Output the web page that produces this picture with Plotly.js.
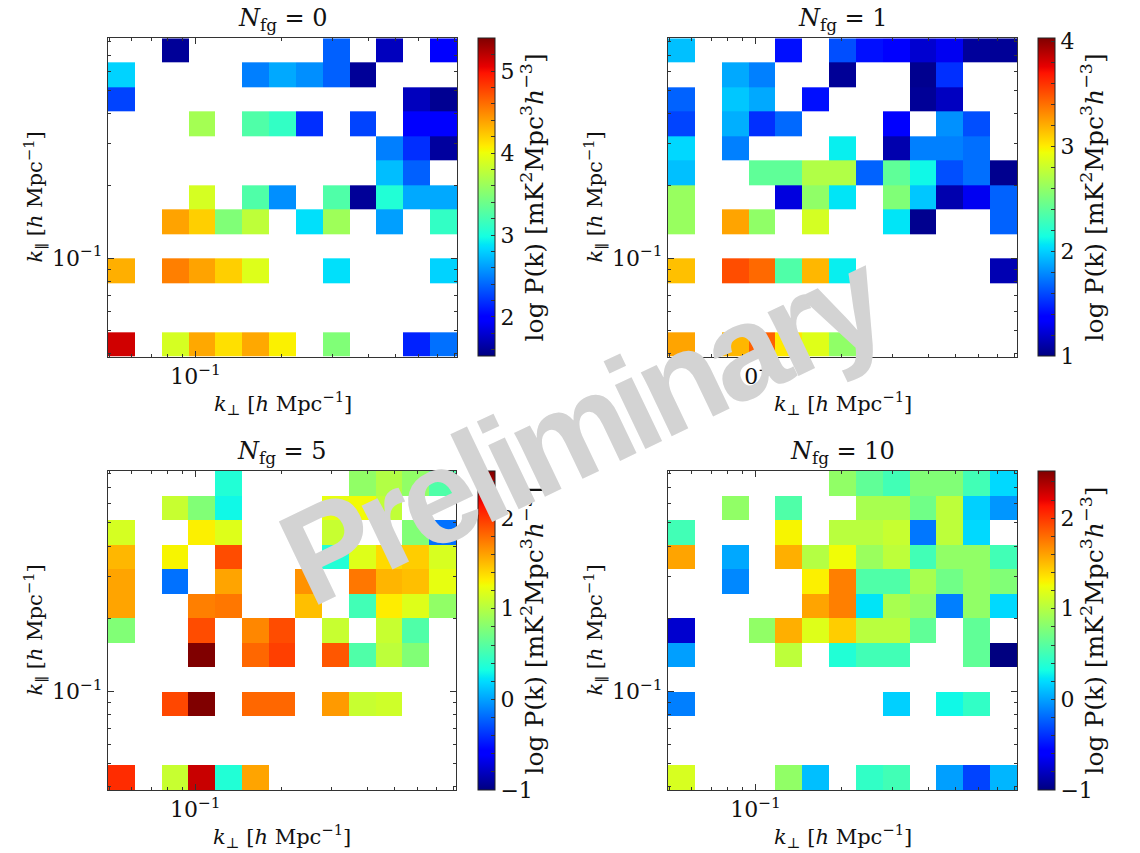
<!DOCTYPE html>
<html><head><meta charset="utf-8">
<script src="https://cdn.plot.ly/plotly-3.0.1.min.js"></script>
<style>body{margin:0;background:#fff}
.annotation[data-index="12"] text{letter-spacing:-8px}</style>
</head><body><div id="chart" style="width:1140px;height:853px"></div>
<script>
// k_perp bin edges (h/Mpc), 13 log bins
const kPerpEdges = [0.04948,0.06139,0.07617,0.09451,0.11727,0.14555,0.18056,0.22408,0.27803,0.34497,0.42803,0.53114,0.65901,0.81770];
// k_par bin edges (h/Mpc), 13 log bins
const kParEdges = [0.03882,0.04909,0.06209,0.07852,0.09931,0.12560,0.15885,0.20091,0.25410,0.32137,0.40644,0.51404,0.65013,0.82224];
const n = null;
// log P(k) rows, listed from highest k_par (top) to lowest (bottom)
const logPk_Nfg0 = [
 [n,n,1.60,n,n,n,n,n,2.37,n,1.73,n,1.99],
 [2.81,n,n,n,n,2.49,2.65,2.55,2.37,1.60,n,n,n],
 [2.26,n,n,n,n,n,n,n,n,n,n,1.73,1.58],
 [n,n,n,3.65,n,3.25,3.11,2.18,n,2.26,n,1.95,1.95],
 [n,n,n,n,n,n,n,n,n,n,2.49,2.18,1.62],
 [n,n,n,n,n,n,n,n,n,n,2.73,2.37,n],
 [n,n,n,3.88,n,3.25,2.55,n,3.25,1.60,3.03,2.65,2.65],
 [n,n,4.38,4.20,3.48,3.77,n,2.86,3.62,n,2.61,n,3.11],
 [n,n,n,n,n,n,n,n,n,n,n,n,n],
 [4.33,n,4.53,4.38,4.20,3.92,n,n,2.86,n,n,n,2.81],
 [n,n,n,n,n,n,n,n,n,n,n,n,n],
 [n,n,n,n,n,n,n,n,n,n,n,n,n],
 [5.13,n,3.88,4.36,4.13,4.36,4.06,n,3.48,n,n,2.13,2.43]
];
const logPk_Nfg1 = [
 [1.95,n,n,n,1.42,n,1.61,1.42,1.36,1.21,1.30,1.07,1.06],
 [n,n,1.88,1.76,n,n,1.06,n,n,1.04,1.52,n,n],
 [1.67,n,1.97,1.88,n,1.42,n,n,n,1.06,1.17,n,n],
 [1.58,n,1.90,1.52,1.69,n,n,n,1.36,n,1.81,1.61,n],
 [2.02,n,1.76,n,n,n,2.09,n,1.12,1.76,1.76,1.71,n],
 [1.95,n,n,2.41,2.41,2.71,2.71,1.67,2.41,2.12,1.61,1.71,1.04],
 [2.62,n,n,n,1.25,2.59,2.06,n,2.53,1.97,1.12,1.30,1.67],
 [2.62,n,3.23,2.59,n,2.84,n,n,2.06,1.04,n,n,1.67],
 [n,n,n,n,n,n,n,n,n,n,n,n,n],
 [3.14,n,3.51,3.42,2.35,3.17,2.09,n,n,n,n,n,1.13],
 [n,n,n,n,n,n,n,n,n,n,n,n,n],
 [n,n,n,n,n,n,n,n,n,n,n,n,n],
 [3.23,n,3.17,3.45,3.01,2.88,2.59,n,n,n,n,n,n]
];
const logPk_Nfg5 = [
 [n,n,n,n,0.37,n,n,n,n,0.85,0.99,0.85,0.57],
 [n,n,1.08,0.78,0.30,n,n,n,1.22,1.27,1.05,n,n],
 [1.14,n,n,1.31,1.18,n,n,n,1.08,n,n,0.78,-0.17],
 [1.52,n,1.29,n,1.92,n,n,n,0.37,1.18,1.39,1.44,1.15],
 [1.59,n,-0.17,n,1.59,n,n,1.66,n,1.76,1.53,1.49,1.22],
 [1.59,n,n,1.73,1.76,n,n,1.49,n,0.51,1.32,1.18,0.85],
 [0.78,n,n,1.92,n,1.70,1.92,n,1.08,n,1.08,0.57,n],
 [n,n,n,2.60,n,1.82,1.97,n,1.88,0.57,1.04,0.78,n],
 [n,n,n,n,n,n,n,n,n,n,n,n,n],
 [n,n,1.94,2.60,n,1.82,1.82,n,1.63,1.08,1.11,n,n],
 [n,n,n,n,n,n,n,n,n,n,n,n,n],
 [n,n,n,n,n,n,n,n,n,n,n,n,n],
 [2.04,n,1.08,2.30,0.37,1.59,n,n,n,n,n,n,n]
];
const logPk_Nfg10 = [
 [n,n,n,n,n,n,0.85,0.64,0.51,0.78,0.78,0.51,0.19],
 [n,n,0.85,n,0.57,n,n,0.95,0.95,0.71,1.04,0.16,-0.04],
 [0.51,n,n,n,1.29,n,1.02,1.02,1.08,-0.15,1.04,0.19,n],
 [1.59,n,0.02,n,1.55,1.00,1.26,0.89,1.04,0.51,0.85,0.85,0.51],
 [n,n,-0.09,n,n,1.31,1.73,0.57,0.57,0.95,0.71,0.85,0.78],
 [n,n,n,n,n,1.59,1.73,0.23,0.95,0.85,-0.12,0.85,0.19],
 [-0.76,n,n,0.85,1.55,1.18,1.44,1.02,1.02,0.64,n,0.64,n],
 [-0.01,n,n,n,1.04,n,0.37,0.51,0.51,n,n,0.64,-1.05],
 [n,n,n,n,n,n,n,n,n,n,n,n,n],
 [-0.12,n,n,n,n,n,n,n,0.16,n,0.30,0.44,n],
 [n,n,n,n,n,n,n,n,n,n,n,n,n],
 [n,n,n,n,n,n,n,n,n,n,n,n,n],
 [1.15,n,n,n,0.85,0.10,n,0.44,0.51,n,-0.01,-0.33,0.07]
];
const panelTitles = ['<i>N</i><sub>fg</sub> = 0','<i>N</i><sub>fg</sub> = 1','<i>N</i><sub>fg</sub> = 5','<i>N</i><sub>fg</sub> = 10'];
const colorRanges = [[1.52,5.40],[1.0,4.03],[-1.0,2.52],[-1.0,2.52]];
const cbarMajor = [[2,3,4,5],[1,2,3,4],[-1,0,1,2],[-1,0,1,2]];
const tickLabel = '10<sup>−1</sup>';
const xTitle = '<i>k</i><sub>⊥</sub> [<i>h</i> Mpc<sup>−1</sup>]';
const yTitle = '<i>k</i><sub>∥</sub> [<i>h</i> Mpc<sup>−1</sup>]';
const cbTitle = 'log P(k) [mK<sup>2</sup>Mpc<sup>3</sup><i>h</i><sup>−3</sup>]';
const minorX = [0.05,0.06,0.07,0.08,0.09,0.2,0.3,0.4,0.5,0.6,0.7,0.8];
const minorY = [0.04,0.05,0.06,0.07,0.08,0.09,0.2,0.3,0.4,0.5,0.6,0.7,0.8];

// matplotlib "jet" colormap (piecewise linear)
function jet(){
  const R=[[0,0],[0.35,0],[0.66,1],[0.89,1],[1,0.5]];
  const G=[[0,0],[0.125,0],[0.375,1],[0.64,1],[0.91,0],[1,0]];
  const B=[[0,0.5],[0.11,1],[0.34,1],[0.65,0],[1,0]];
  const itp=(s,t)=>{for(let i=1;i<s.length;i++){if(t<=s[i][0]){const a=s[i-1],b=s[i];return a[1]+(b[1]-a[1])*(t-a[0])/(b[0]-a[0]);}}return s[s.length-1][1];};
  const stops=[0,0.11,0.125,0.34,0.35,0.375,0.64,0.65,0.66,0.89,0.91,1];
  return stops.map(t=>[t,`rgb(${Math.round(255*itp(R,t))},${Math.round(255*itp(G,t))},${Math.round(255*itp(B,t))})`]);
}
const cs = jet();
const W=1140,H=853;
const FONT='"DejaVu Serif", serif';
const plots = [
  {x0:108,x1:457,y0:38.3,y1:356.7,cb:478},
  {x0:668,x1:1017,y0:38.3,y1:356.7,cb:1038},
  {x0:108,x1:456,y0:471,y1:790,cb:478},
  {x0:668,x1:1017,y0:471,y1:790,cb:1038}
];
const datasets=[logPk_Nfg0,logPk_Nfg1,logPk_Nfg5,logPk_Nfg10];
const traces=[]; const layout={width:W,height:H,margin:{l:0,r:0,t:0,b:0},paper_bgcolor:'#fff',plot_bgcolor:'#fff',
  font:{family:FONT,color:'#111',size:22},showlegend:false,annotations:[]};
plots.forEach((p,i)=>{
  const ax=i===0?'':String(i+1);
  const rng=colorRanges[i];
  const major=cbarMajor[i];
  const tv=[],tt=[];
  for(let v=Math.ceil(rng[0]*5)/5; v<=rng[1]+1e-9; v+=0.2){const r=Math.round(v*5)/5; tv.push(r); tt.push(major.includes(Math.round(r*1000)/1000)&&Math.abs(r-Math.round(r))<1e-6?String(Math.round(r)).replace('-','−'):'');}
  traces.push({type:'heatmap',x:kPerpEdges,y:kParEdges,z:datasets[i].slice().reverse(),xaxis:'x'+ax,yaxis:'y'+ax,
    colorscale:cs,zmin:rng[0],zmax:rng[1],zsmooth:false,hoverongaps:false,
    colorbar:{x:p.cb/W,xanchor:'left',xpad:0,ypad:0,y:1-p.y0/H,yanchor:'top',len:(p.y1-p.y0)/H,lenmode:'fraction',
      thickness:17,thicknessmode:'pixels',outlinewidth:1,outlinecolor:'#222',tickmode:'array',tickvals:tv,ticktext:tt,
      ticks:'inside',ticklen:4,tickcolor:'#333',tickfont:{family:FONT,size:22},
      title:{text:cbTitle,side:'right',font:{family:FONT,size:25}}}});
  const common={showgrid:false,zeroline:false,showline:true,linecolor:'#333',linewidth:1,mirror:'ticks',ticks:'inside',ticklen:6,tickcolor:'#333',tickmode:'array',tickvals:[0.1],ticktext:[tickLabel],tickfont:{family:FONT,size:22},type:'log'};
  layout['xaxis'+ax]=Object.assign({},common,{domain:[p.x0/W,p.x1/W],range:[Math.log10(kPerpEdges[0]),Math.log10(kPerpEdges[13])],anchor:'y'+ax,
    minor:{tickmode:'array',tickvals:minorX,ticks:'inside',ticklen:3,tickcolor:'#333',showgrid:false}});
  layout['yaxis'+ax]=Object.assign({},common,{domain:[1-p.y1/H,1-p.y0/H],range:[Math.log10(kParEdges[0]),Math.log10(kParEdges[13])],anchor:'x'+ax,
    minor:{tickmode:'array',tickvals:minorY,ticks:'inside',ticklen:3,tickcolor:'#333',showgrid:false}});
  const cx=(p.x0+p.x1)/2, cy=(p.y0+p.y1)/2;
  layout.annotations.push({text:panelTitles[i],xref:'paper',yref:'paper',x:cx/W,y:1-(p.y0-19)/H,xanchor:'center',yanchor:'middle',showarrow:false,font:{family:FONT,size:24}});
  layout.annotations.push({text:xTitle,xref:'paper',yref:'paper',x:cx/W,y:1-(p.y1+46)/H,xanchor:'center',yanchor:'middle',showarrow:false,font:{family:FONT,size:21}});
  layout.annotations.push({text:yTitle,xref:'paper',yref:'paper',x:(p.x0-74)/W,y:1-cy/H,xanchor:'center',yanchor:'middle',textangle:-90,showarrow:false,font:{family:FONT,size:21}});
});
layout.annotations.push({text:'Preliminary',xref:'paper',yref:'paper',x:580/W,y:1-428/H,xanchor:'center',yanchor:'middle',textangle:-25.5,showarrow:false,
  font:{family:'"Liberation Sans", Arial, sans-serif',size:134,weight:700,color:'rgb(211,211,211)'}});
Plotly.newPlot('chart',traces,layout,{displayModeBar:false,staticPlot:true});
</script></body></html>
